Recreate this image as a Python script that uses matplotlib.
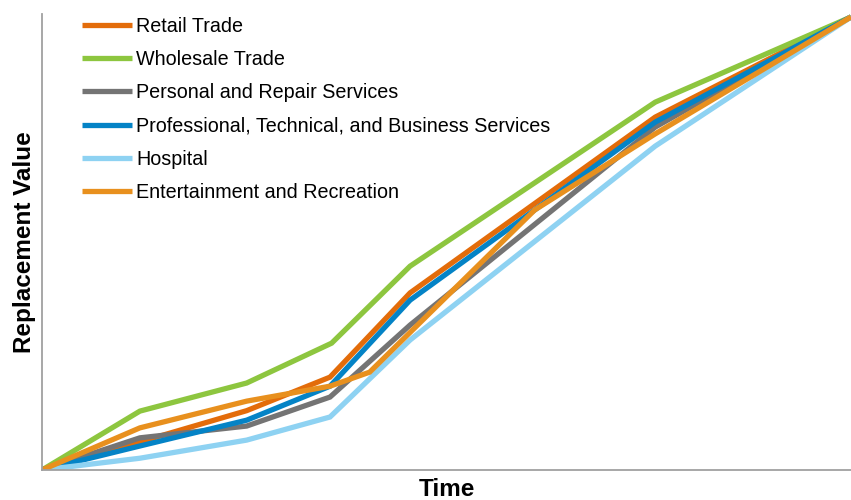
import matplotlib
matplotlib.use("Agg")
import matplotlib.pyplot as plt

plt.rcParams['font.family'] = ['Liberation Sans', 'DejaVu Sans']

# Time (0-100 scale) and replacement value (0-100 scale)
series_names = [
    "Retail Trade",
    "Wholesale Trade",
    "Personal and Repair Services",
    "Professional, Technical, and Business Services",
    "Hospital",
    "Entertainment and Recreation",
]

retail_t = [0, 12.1, 25.3, 35.6, 45.5, 75.8, 100]
retail_v = [0, 6.2, 13.1, 20.5, 39.1, 77.9, 100]

wholesale_t = [0, 12.1, 25.3, 35.8, 45.5, 75.8, 100]
wholesale_v = [0, 13.0, 19.2, 28.0, 45.0, 81.2, 100]

personal_t = [0, 12.1, 25.3, 35.6, 45.5, 75.8, 100]
personal_v = [0, 7.1, 9.7, 16.1, 32.0, 75.7, 100]

professional_t = [0, 12.1, 25.3, 35.6, 45.5, 60.9, 75.8, 100]
professional_v = [0, 5.3, 11.0, 18.5, 37.5, 57.4, 76.8, 100]

hospital_t = [0, 12.1, 25.3, 35.6, 45.5, 75.8, 100]
hospital_v = [0, 2.6, 6.6, 11.7, 28.7, 71.5, 100]

entertainment_t = [0, 12.1, 25.3, 35.6, 40.5, 60.9, 75.8, 100]
entertainment_v = [0, 9.3, 15.2, 18.5, 21.6, 57.4, 74.2, 100]

colors = ["#E36C0A", "#8DC63F", "#747474", "#0483C6", "#8ED2F2", "#E8901E"]

data_t = [retail_t, wholesale_t, personal_t, professional_t, hospital_t, entertainment_t]
data_v = [retail_v, wholesale_v, personal_v, professional_v, hospital_v, entertainment_v]

fig = plt.figure(figsize=(8.51, 5.0), dpi=100)
ax = fig.add_axes([42 / 851, 30 / 500, 1 - 42 / 851, (470 - 14) / 500])

for name, t, v, c in zip(series_names, data_t, data_v, colors):
    ax.plot(t, v, color=c, lw=3.8, label=name, solid_joinstyle='miter',
            solid_capstyle='butt', clip_on=True)

ax.set_xlim(0, 100)
ax.set_ylim(0, 100.66)
ax.set_xticks([])
ax.set_yticks([])
for s in ["top", "right"]:
    ax.spines[s].set_visible(False)
for s in ["left", "bottom"]:
    ax.spines[s].set_color("#A0A0A0")
    ax.spines[s].set_linewidth(1.3)

ax.set_xlabel("Time", fontsize=17.5, fontweight="bold", labelpad=6)
ax.set_ylabel("Replacement Value", fontsize=17.5, fontweight="bold", labelpad=4)

fig.legend(loc="upper left", bbox_to_anchor=(82 / 851, 1 - 17 / 500),
           frameon=False, fontsize=14.2, handlelength=2.55, handletextpad=0.2,
           labelspacing=0.72, borderpad=0, borderaxespad=0)

fig.savefig("out.png", dpi=100)
